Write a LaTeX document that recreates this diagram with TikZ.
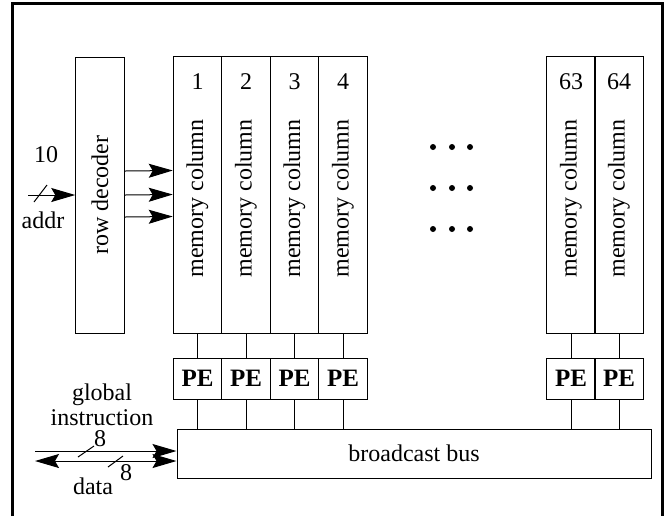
\documentclass[tikz,border=0pt]{standalone}
\usepackage{fontspec}
\setmainfont{Liberation Serif}
\usetikzlibrary{arrows.meta}
\tikzset{
	>={Stealth[length=12pt,width=7pt,inset=2pt]},
	box/.style={draw,line width=0.5pt,inner sep=0pt,minimum width=24.25pt},
	memcol/.style={box,minimum height=138.5pt},
	pebox/.style={box,minimum height=20.5pt,font=\fontsize{12.5}{14}\selectfont\bfseries},
	bits/.style={line width=0.5pt},
	sig/.style={line width=0.5pt,->},
}
\begin{document}
\begin{tikzpicture}[x=0.5pt,y=-0.5pt,font=\fontsize{12}{14}\selectfont]
	\useasboundingbox (0,0) rectangle (668,516);
	\draw[line width=1.5pt] (12,516) -- (12,3) -- (662,3) -- (662,516);
	\node[box,minimum height=138pt] (dec) at (100,195) {};
	\node[rotate=90] at (dec.center) {row decoder};
	\foreach \n/\x in {1/197.5,2/246,3/294.5,4/343,63/571,64/619}{
		\node[memcol] (col\n) at (\x,194.5) {};
		\node at ([yshift=-13pt]col\n.north) {\n};
		\node[rotate=90] at ([yshift=-2pt]col\n.center) {memory column};
		\node[pebox] (pe\n) at (\x,378.5) {PE};
		\draw (col\n.south) -- (pe\n.north);
	}
	\node[box,minimum width=237pt,minimum height=24.5pt] (bus) at (414,453.5) {broadcast bus};
	\foreach \n in {1,2,3,4,63,64}
		\draw (pe\n.south) -- (pe\n.south |- bus.north);
	\foreach \s in {12pt,0pt,-11pt}
		\draw[sig] ([yshift=\s]dec.east) -- ([yshift=\s]col1.west);
	\coordinate (addr) at (28,195);
	\draw[sig] (addr) -- (dec.west);
	\draw[bits] (34,202) -- (47,185);
	\node at (46,155) {10};
	\node at (43,220) {addr};
	\coordinate (gin) at (35,451);
	\coordinate (dat) at (35,461);
	\draw[sig] (gin) -- (gin -| bus.west);
	\draw[sig,<->] (dat) -- (dat -| bus.west);
	\draw[bits] (78,457) -- (94,446);
	\node at (100,439) {8};
	\draw[bits] (108,467) -- (123,456);
	\node at (126,473) {8};
	\node at (102,395) {global};
	\node at (102,418) {instruction};
	\node at (93,486) {data};
	\foreach \x in {433,452,470}
		\foreach \y in {147,188,229}
			\fill (\x,\y) circle[radius=1.5pt];
\end{tikzpicture}
\end{document}
